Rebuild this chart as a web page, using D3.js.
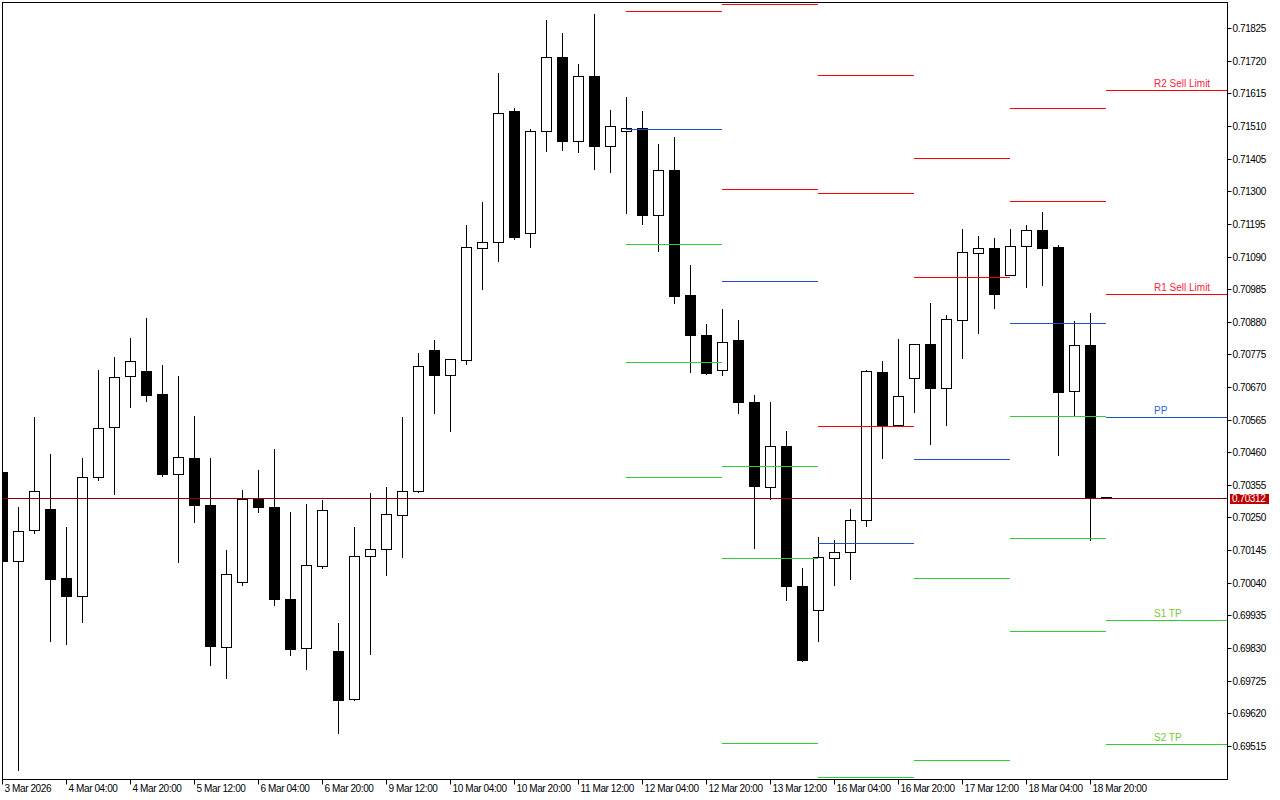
<!DOCTYPE html>
<html><head><meta charset="utf-8">
<script src="https://cdn.jsdelivr.net/npm/d3@7"></script>
<style>html,body{margin:0;padding:0;background:#fff;overflow:hidden} svg{display:block}</style>
</head><body>
<svg id="c" width="1280" height="800"></svg>
<script>
// ---- Data (H4 candles, 3 Mar 12:00 .. 19 Mar 00:00) ----
const candleOpen = [0.70397,0.70109,0.70210,0.70276,0.70054,0.69998,0.70381,0.70542,0.70706,0.70720,
  0.70646,0.70391,0.70443,0.70289,0.69833,0.70042,0.70310,0.70285,0.69989,0.69829,
  0.70093,0.69819,0.69666,0.70127,0.70149,0.70259,0.70336,0.70788,0.70709,0.70758,
  0.71118,0.71137,0.71560,0.71166,0.71495,0.71733,0.71463,0.71672,0.71447,0.71495,
  0.71504,0.71223,0.71367,0.70965,0.70839,0.70725,0.70820,0.70622,0.70348,0.70481,
  0.70031,0.69953,0.70120,0.70140,0.70243,0.70717,0.70549,0.70700,0.70807,0.70666,
  0.70885,0.71102,0.71116,0.71030,0.71123,0.71176,0.71122,0.70657,0.70806,0.70315];
const candleHigh = [0.70400,0.70285,0.70572,0.70453,0.70218,0.70443,0.70726,0.70768,0.70829,0.70891,
  0.70742,0.70704,0.70578,0.70443,0.70144,0.70337,0.70404,0.70472,0.70269,0.70292,
  0.70305,0.69909,0.70218,0.70330,0.70347,0.70572,0.70781,0.70820,0.70761,0.71193,
  0.71264,0.71682,0.71567,0.71502,0.71853,0.71808,0.71711,0.71872,0.71563,0.71605,
  0.71557,0.71451,0.71476,0.71064,0.70874,0.70920,0.70887,0.70643,0.70622,0.70527,
  0.70086,0.70187,0.70179,0.70277,0.70726,0.70755,0.70823,0.70807,0.70939,0.70903,
  0.71180,0.71155,0.71151,0.71180,0.71193,0.71232,0.71126,0.70884,0.70907,0.70315];
const candleLow = [0.70108,0.69437,0.70199,0.69852,0.69842,0.69913,0.70370,0.70325,0.70605,0.70624,
  0.70383,0.70106,0.70235,0.69775,0.69733,0.70034,0.70267,0.69968,0.69806,0.69762,
  0.70087,0.69556,0.69664,0.69810,0.70064,0.70122,0.70331,0.70586,0.70528,0.70743,
  0.70985,0.71075,0.71146,0.71120,0.71429,0.71432,0.71426,0.71371,0.71362,0.71230,
  0.71194,0.71107,0.70940,0.70718,0.70711,0.70708,0.70587,0.70151,0.70310,0.69986,
  0.69787,0.69852,0.70032,0.70051,0.70222,0.70440,0.70547,0.70589,0.70486,0.70547,
  0.70763,0.70843,0.70924,0.71030,0.70991,0.71000,0.70451,0.70577,0.70177,0.70312];
const candleClose = [0.70109,0.70208,0.70336,0.70051,0.69997,0.70381,0.70539,0.70703,0.70754,0.70644,
  0.70389,0.70446,0.70290,0.69836,0.70069,0.70310,0.70283,0.69989,0.69828,0.70098,
  0.70275,0.69662,0.70127,0.70149,0.70262,0.70336,0.70738,0.70708,0.70761,0.71121,
  0.71137,0.71553,0.71152,0.71495,0.71733,0.71461,0.71672,0.71445,0.71511,0.71504,
  0.71223,0.71369,0.70962,0.70837,0.70714,0.70816,0.70622,0.70351,0.70481,0.70029,
  0.69791,0.70123,0.70140,0.70243,0.70720,0.70547,0.70642,0.70807,0.70666,0.70890,
  0.71105,0.71116,0.70969,0.71125,0.71176,0.71117,0.70653,0.70806,0.70315,0.70312];

// x-axis: one label every 4th candle
const xTickLabels = ["3 Mar 2026","4 Mar 04:00","4 Mar 20:00","5 Mar 12:00","6 Mar 04:00","6 Mar 20:00",
  "9 Mar 12:00","10 Mar 04:00","10 Mar 20:00","11 Mar 12:00","12 Mar 04:00","12 Mar 20:00",
  "13 Mar 12:00","16 Mar 04:00","16 Mar 20:00","17 Mar 12:00","18 Mar 04:00","18 Mar 20:00"];
const xTickEvery = 4;
const yTickValues = [0.69515,0.69620,0.69725,0.69830,0.69935,0.70040,0.70145,0.70250,0.70355,0.70460,
  0.70565,0.70670,0.70775,0.70880,0.70985,0.71090,0.71195,0.71300,0.71405,0.71510,0.71615,0.71720,0.71825];

// daily pivot levels (null = outside the visible range)
const pivotDays  = ["12 Mar","13 Mar","16 Mar","17 Mar","18 Mar","19 Mar"];
const pivotStart = [39, 45, 51, 57, 63, 69];   // index of first candle of each day
const pivotR3 = [null,    null,    0.71675, null,    null,    null   ];
const pivotR2 = [null,    0.71904, 0.71295, 0.71408, 0.71569, 0.71627];
const pivotR1 = [0.71881, 0.71308, 0.70546, 0.71025, 0.71269, 0.70970];
const pivotPP = [0.71501, 0.71012, 0.70169, 0.70439, 0.70877, 0.70574];
const pivotS1 = [0.71131, 0.70416, 0.69415, 0.70056, 0.70578, 0.69921];
const pivotS2 = [0.70751, 0.70120, null,    0.69470, 0.70185, 0.69521];
const pivotS3 = [0.70381, 0.69525, null,    null,    0.69885, null   ];
const levelLabels = ["R2 Sell Limit","R1 Sell Limit","PP","S1 TP","S2 TP"];
const lastPrice = 0.70312;

// ---- Layout ----
const L = 2, T = 2, R = 1227, B = 779;
const FONT = "'Liberation Sans', Arial, sans-serif";
const RED = "#ff0000", BLUE = "#1e4fc8", GREEN = "#32cd32", BID = "#8c0000", TAG = "#c00000";
const TXT_RED = "#ff2040", TXT_BLUE = "#2a5fe0", TXT_GREEN = "#7cc734";

const n = candleOpen.length;
const x = d3.scaleLinear().domain([0, n - 1]).range([L, L + 16 * (n - 1)]);
const y = d3.scaleLinear().domain([0.694098, 0.719110]).range([B, T]);
const py = v => Math.floor(y(v));
const px = i => Math.round(x(i));

const svg = d3.select("#c");
svg.append("rect").attr("width", 1280).attr("height", 800).attr("fill", "#fff");
svg.append("defs").append("clipPath").attr("id", "plot")
  .append("rect").attr("x", L).attr("y", T).attr("width", R - L).attr("height", B - T);

const plot = svg.append("g").attr("clip-path", "url(#plot)");

const candles = d3.range(n).map(i => ({i, o: candleOpen[i], h: candleHigh[i], l: candleLow[i], c: candleClose[i]}));

// wicks
plot.append("g").selectAll("line").data(candles).join("line")
  .attr("x1", d => px(d.i) + 0.5).attr("x2", d => px(d.i) + 0.5)
  .attr("y1", d => py(d.h)).attr("y2", d => py(d.l) + 1)
  .attr("stroke", "#000").attr("stroke-width", 1).attr("shape-rendering", "crispEdges");
// bodies
plot.append("g").selectAll("rect").data(candles).join("rect")
  .attr("x", d => px(d.i) - 4.5).attr("width", 10)
  .attr("y", d => py(Math.max(d.o, d.c)) + 0.5)
  .attr("height", d => Math.max(1, py(Math.min(d.o, d.c)) - py(Math.max(d.o, d.c))))
  .attr("fill", d => d.c > d.o ? "#fff" : "#000")
  .attr("stroke", "#000").attr("stroke-width", 1);

// pivot segments
const levelSets = [
  {vals: pivotR3, col: RED}, {vals: pivotR2, col: RED}, {vals: pivotR1, col: RED},
  {vals: pivotPP, col: BLUE}, {vals: pivotS1, col: GREEN}, {vals: pivotS2, col: GREEN}, {vals: pivotS3, col: GREEN}
];
const segs = [];
levelSets.forEach(s => s.vals.forEach((v, d) => {
  if (v == null) return;
  const x1 = px(pivotStart[d]);
  const x2 = d < pivotStart.length - 1 ? px(pivotStart[d + 1]) : R;
  segs.push({x1, x2, v, col: s.col});
}));
plot.append("g").selectAll("line").data(segs).join("line")
  .attr("x1", d => d.x1).attr("x2", d => d.x2)
  .attr("y1", d => py(d.v) + 0.5).attr("y2", d => py(d.v) + 0.5)
  .attr("stroke", d => d.col).attr("stroke-width", 1);

// bid line
plot.append("line").attr("x1", L).attr("x2", R)
  .attr("y1", py(lastPrice) + 0.5).attr("y2", py(lastPrice) + 0.5)
  .attr("stroke", BID).attr("stroke-width", 1);

// level labels on the current day
const lastDay = pivotStart.length - 1;
const lastVals = [pivotR2[lastDay], pivotR1[lastDay], pivotPP[lastDay], pivotS1[lastDay], pivotS2[lastDay]];
const lastCols = [TXT_RED, TXT_RED, TXT_BLUE, TXT_GREEN, TXT_GREEN];
svg.append("g").selectAll("text").data(levelLabels).join("text")
  .attr("x", px(pivotStart[lastDay]) + 48)
  .attr("y", (d, k) => py(lastVals[k]) - 3)
  .attr("fill", (d, k) => lastCols[k])
  .attr("font-family", FONT).attr("font-size", 10)
  .text(d => d);

// border
svg.append("rect").attr("x", L + 0.5).attr("y", T + 0.5).attr("width", R - L).attr("height", B - T)
  .attr("fill", "none").attr("stroke", "#000").attr("stroke-width", 1);

// y axis (right)
const yAxis = svg.append("g").attr("transform", `translate(${R},0)`)
  .call(d3.axisRight(y).tickValues(yTickValues).tickSize(4).tickPadding(1).tickFormat(d3.format(".5f")));
yAxis.select(".domain").remove();
yAxis.selectAll(".tick").attr("transform", d => `translate(0.5,${py(d) + 0.5})`);
yAxis.selectAll(".tick line").attr("stroke", "#000").attr("x1", 0);
yAxis.selectAll(".tick text").attr("font-family", FONT).attr("font-size", 10)
  .attr("letter-spacing", "-0.4px").attr("fill", "#000").attr("x", 5).attr("dy", "0.35em");

// x axis (bottom)
const xTickIdx = xTickLabels.map((_, k) => k * xTickEvery);
const xAxis = svg.append("g").attr("transform", `translate(0,${B})`)
  .call(d3.axisBottom(x).tickValues(xTickIdx).tickSize(5).tickFormat((d, k) => xTickLabels[k]));
xAxis.select(".domain").remove();
xAxis.selectAll(".tick").attr("transform", d => `translate(${px(d) + 0.5},0.5)`);
xAxis.selectAll(".tick line").attr("stroke", "#000");
xAxis.selectAll(".tick text").attr("font-family", FONT).attr("font-size", 10)
  .attr("letter-spacing", "-0.4px").attr("fill", "#000")
  .attr("text-anchor", "start").attr("x", 2).attr("y", 12.5).attr("dy", null);

// last price tag
const ly = py(lastPrice);
svg.append("rect").attr("x", R + 3).attr("y", ly - 4).attr("width", 39).attr("height", 10).attr("fill", TAG);
svg.append("text").attr("x", R + 5).attr("y", ly + 0.5).attr("dy", "0.35em")
  .attr("font-family", FONT).attr("font-size", 10).attr("letter-spacing", "-0.4px")
  .attr("fill", "#fff").text(d3.format(".5f")(lastPrice));
</script>
</body></html>
